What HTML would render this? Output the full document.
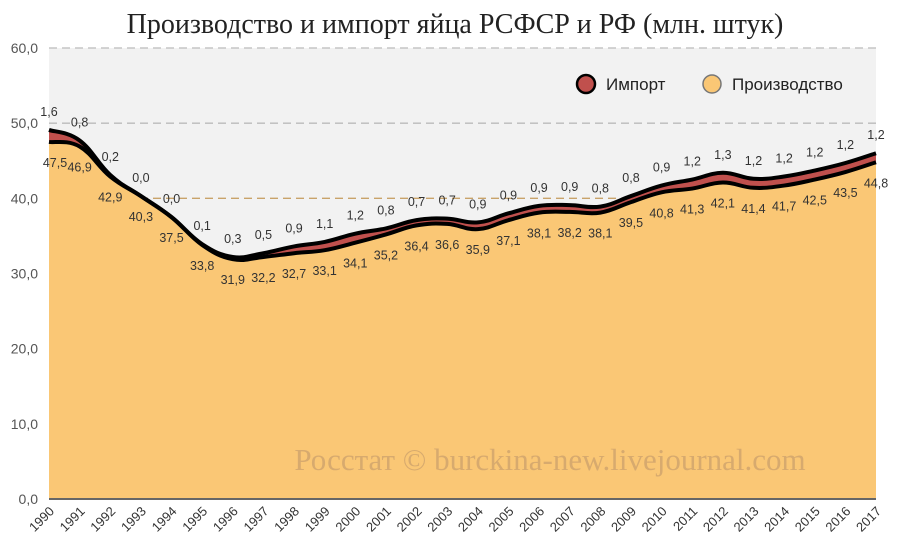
<!DOCTYPE html>
<html><head><meta charset="utf-8"><style>
body{margin:0;background:#fff;}
svg{display:block;font-family:"Liberation Sans","DejaVu Sans",sans-serif;}
</style></head><body>
<svg id="chart" width="900" height="551">
<text x="455" y="33" text-anchor="middle" font-family="Liberation Serif, DejaVu Serif, serif" font-size="28" fill="#222">Производство и импорт яйца РСФСР и РФ (млн. штук)</text>
<rect x="49" y="48" width="827" height="451" fill="#f2f2f2"/>
<g id="grid"></g>
<g id="areas"></g>
<g id="labels"></g>
<text x="550" y="470" text-anchor="middle" font-family="Liberation Serif, DejaVu Serif, serif" font-size="31" fill="#d7aa6e">Росстат © burckina-new.livejournal.com</text>
<g>
<circle cx="586" cy="84" r="9" fill="#c0504d" stroke="#000" stroke-width="2.5"/>
<text x="606" y="90" font-size="17" fill="#222">Импорт</text>
<circle cx="712" cy="84" r="9" fill="#fac775" stroke="#777" stroke-width="1.5"/>
<text x="732" y="90" font-size="17" fill="#222">Производство</text>
</g>
<line x1="49" y1="499" x2="876" y2="499" stroke="#666" stroke-width="2"/>
<g id="axes"></g>
</svg>
<script>
const years=[1990,1991,1992,1993,1994,1995,1996,1997,1998,1999,2000,2001,2002,2003,2004,2005,2006,2007,2008,2009,2010,2011,2012,2013,2014,2015,2016,2017];
const production=[47.5,46.9,42.9,40.3,37.5,33.8,31.9,32.2,32.7,33.1,34.1,35.2,36.4,36.6,35.9,37.1,38.1,38.2,38.1,39.5,40.8,41.3,42.1,41.4,41.7,42.5,43.5,44.8];
const imports=[1.6,0.8,0.2,0.0,0.0,0.1,0.3,0.5,0.9,1.1,1.2,0.8,0.7,0.7,0.9,0.9,0.9,0.9,0.8,0.8,0.9,1.2,1.3,1.2,1.2,1.2,1.2,1.2];
const yTicks=[0,10,20,30,40,50,60];
const NS="http://www.w3.org/2000/svg";
const X0=49,X1=876,Y0=499,YMAX=60,YTOP=48;
const xs=i=>X0+(X1-X0)*i/(years.length-1);
const ys=v=>Y0-(Y0-YTOP)*v/YMAX;
const fmt=v=>v.toFixed(1).replace('.',',');
function mk(tag,attrs,parent){const e=document.createElementNS(NS,tag);for(const k in attrs)e.setAttribute(k,attrs[k]);document.getElementById(parent).appendChild(e);return e;}
function smooth(pts){let d="";for(let i=0;i<pts.length-1;i++){const p0=pts[Math.max(0,i-1)],p1=pts[i],p2=pts[i+1],p3=pts[Math.min(pts.length-1,i+2)];const t=0.2;const c1=[p1[0]+(p2[0]-p0[0])*t,p1[1]+(p2[1]-p0[1])*t],c2=[p2[0]-(p3[0]-p1[0])*t,p2[1]-(p3[1]-p1[1])*t];d+=" C"+c1.join(",")+" "+c2.join(",")+" "+p2.join(",");}return d;}
yTicks.forEach(v=>{
 if(v>0){const l=mk('line',{x1:X0,x2:X1,y1:ys(v),y2:ys(v),stroke:v>=50?'#bbb':'#c9a36a','stroke-width':1.3,'stroke-dasharray':'8,5'},'grid');
 
 }
 const t=mk('text',{x:38,y:ys(v)+5,'text-anchor':'end','font-size':14,fill:'#555'},'axes');t.textContent=fmt(v);
 
 
});
years.forEach((y,i)=>{
 const t=mk('text',{transform:`translate(${xs(i)+6},${512}) rotate(-45)`,'text-anchor':'end','font-size':13,fill:'#333'},'axes');t.textContent=y;
 
 
});
const pp=production.map((v,i)=>[xs(i),ys(v)]);
const tp=production.map((v,i)=>[xs(i),ys(v+imports[i])]);
const prodPath="M"+pp[0].join(",")+smooth(pp);
const totPath="M"+tp[0].join(",")+smooth(tp);
const a1=mk('path',{d:totPath+` L${X1},${Y0} L${X0},${Y0} Z`,fill:'#c0504d'},'areas');


const a2=mk('path',{d:prodPath+` L${X1},${Y0} L${X0},${Y0} Z`,fill:'#fac775'},'areas');


const l1=mk('path',{d:prodPath,fill:'none',stroke:'#000','stroke-width':4},'areas');


const l2=mk('path',{d:totPath,fill:'none',stroke:'#000','stroke-width':4},'areas');


production.forEach((v,i)=>{
 const t=mk('text',{x:xs(i)+(i==0?6:0),y:ys(v)+25,'text-anchor':'middle','font-size':12.5,fill:'#333'},'labels');t.textContent=fmt(v);
 
 
 const u=mk('text',{x:xs(i),y:ys(v+imports[i])-14,'text-anchor':'middle','font-size':12.5,fill:'#333'},'labels');u.textContent=fmt(imports[i]);
 
 
});
</script>
</body></html>
